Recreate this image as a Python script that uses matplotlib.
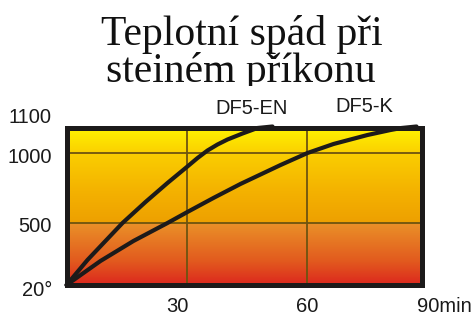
import numpy as np
import matplotlib
matplotlib.use("Agg")
from matplotlib import pyplot as plt
from matplotlib.colors import LinearSegmentedColormap
from matplotlib.transforms import Bbox, TransformedBbox

# data (minutes, degrees C)
en_t = [0, 5.25, 14, 19.75, 25.25, 30.25, 32.75, 35.25, 37.75, 40.25, 44, 47.75, 51.5]
en_T = [20, 214, 500, 650, 786, 904, 964, 1010, 1034, 1054, 1078, 1100, 1106]
k_t = [0, 8.5, 16.75, 25.25, 30.25, 36.75, 43.5, 53.5, 60.25, 66.75, 75.25, 81, 83.75, 87.5]
k_T = [20, 206, 361, 500, 579, 679, 779, 914, 1000, 1036, 1072, 1092, 1100, 1106]

y_ticks = [20, 500, 1000, 1100]
y_labels = ["20°", "500", "1000", "1100"]
x_ticks = [30, 60, 90]
x_labels = ["30", "60", "90min"]

# the temperature axis of the picture is not linear: pixel heights of the ticks
y_px = [0, 62, 132, 157]


def fwd(v):
    v = np.asarray(v, dtype=float)
    return np.interp(v, y_ticks, y_px) + np.where(v > 1100, (v - 1100) * 0.25, 0)


def inv(p):
    p = np.asarray(p, dtype=float)
    return np.interp(p, y_px, y_ticks) + np.where(p > 157, (p - 157) / 0.25, 0)


W, H = 472, 316
fig = plt.figure(figsize=(W / 100, H / 100), dpi=100)
ax = fig.add_axes([66.5 / W, 1 - 285 / H, (422 - 66.5) / W, (285 - 128) / H])
ax.set_yscale("function", functions=(fwd, inv))
ax.set_xlim(0, (422 - 66.5) / 4)
ax.set_ylim(20, 1100)

# background gradient
cmap = LinearSegmentedColormap.from_list("heat", [
    (0.0, (220/255, 40/255, 30/255)),
    (0.15, (226/255, 90/255, 30/255)),
    (0.39, (234/255, 144/255, 40/255)),
    (0.396, (238/255, 160/255, 0)),
    (0.6, (244/255, 178/255, 0)),
    (0.83, (250/255, 205/255, 0)),
    (1.0, (1.0, 242/255, 0)),
])
grad = np.linspace(0, 1, 400).reshape(-1, 1)
ax.imshow(grad, cmap=cmap, origin="lower", aspect="auto",
          extent=[0, 1, 0, 1], transform=ax.transAxes, zorder=0)

# grid
gc = "#6e5410"
for v in [500, 1000]:
    ax.axhline(v, color=gc, lw=1.3, zorder=1)
for v in [30, 60]:
    ax.axvline(v, color=gc, lw=1.3, zorder=1)

ax.plot(en_t, en_T, color="#1c1a1a", lw=3.0, zorder=2, clip_on=False,
        solid_joinstyle="round", solid_capstyle="round")
ax.plot(k_t, k_T, color="#1c1a1a", lw=3.0, zorder=2, clip_on=False,
        solid_joinstyle="round", solid_capstyle="round")

for s in ax.spines.values():
    s.set_linewidth(3.6)
    s.set_color("#1c1a1a")
    s.set_zorder(3)
ax.set_xticks([])
ax.set_yticks([])

font = dict(family="Liberation Sans", fontsize=14.5, color="#1a1a1a")
ytr = ax.get_yaxis_transform()
y_off = [-5, -4, -4, 11]
for v, lab, dy in zip(y_ticks, y_labels, y_off):
    ax.annotate(lab, xy=(0, v), xycoords=ytr, xytext=(-14.5, dy),
                textcoords="offset pixels", ha="right", va="center", **font)

xtr = ax.get_xaxis_transform()
x_off = [(-9, "center"), (1, "center"), (-10, "left")]
for v, lab, (dx, ha) in zip(x_ticks, x_labels, x_off):
    ax.annotate(lab, xy=(v, 0), xycoords=xtr, xytext=(dx, -22),
                textcoords="offset pixels", ha=ha, va="center",
                annotation_clip=False, **font)

fig.text(251.5 / W, 1 - 108 / H, "DF5-EN", ha="center", va="center", **font)
fig.text(364 / W, 1 - 106 / H, "DF5-K", ha="center", va="center", **font)

# title, second line cut off at the bottom like in the source image
tfont = dict(family="Liberation Serif", fontsize=30, color="#111111")
fig.text(242 / W, 1 - 45 / H, "Teplotní spád při", ha="center",
         va="baseline", **tfont)
t2 = fig.text(241 / W, 1 - 82 / H, "steiném příkonu", ha="center",
              va="baseline", **tfont)
t2.set_clip_box(TransformedBbox(Bbox([[0, 1 - 86 / H], [1, 1]]), fig.transFigure))
t2.set_clip_on(True)

fig.savefig("out.png", dpi=100)
